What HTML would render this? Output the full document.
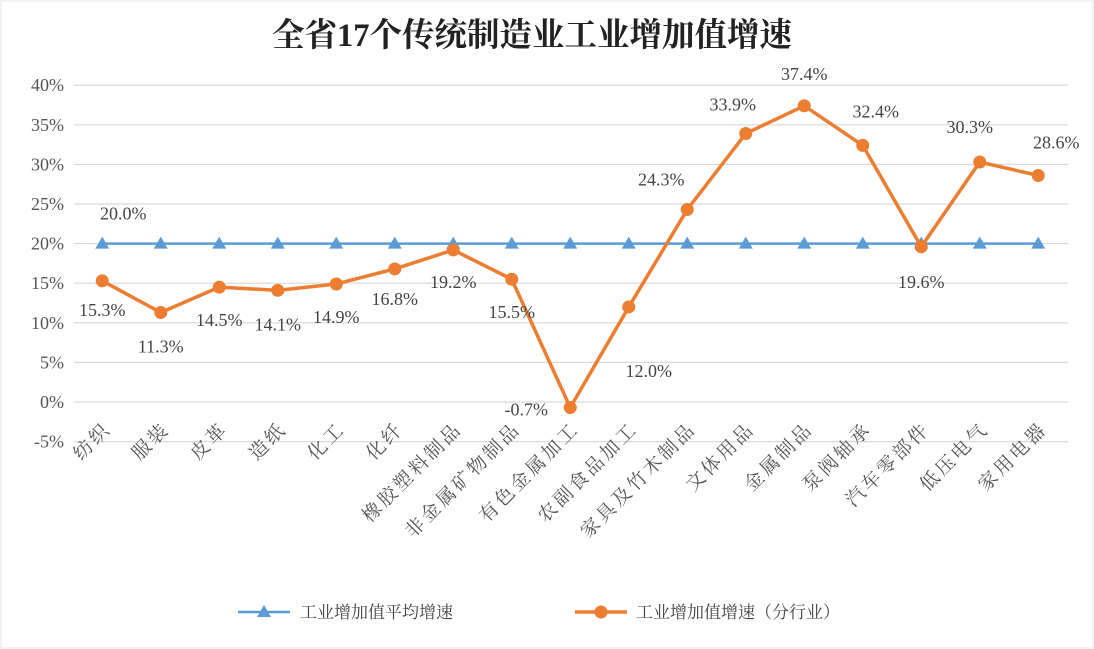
<!DOCTYPE html>
<html><head><meta charset="utf-8">
<style>
html,body{margin:0;padding:0;background:#fff;}
svg{display:block;font-family:"Liberation Serif","Noto Serif CJK SC",serif;}
</style></head>
<body>
<svg id="chart" width="1094" height="649" viewBox="0 0 1094 649">
<rect x="1" y="1" width="1092" height="647" fill="#fff" stroke="#e4e4e4"/>
<text x="532" y="46" text-anchor="middle" font-size="33" font-weight="bold" fill="#222" textLength="520" lengthAdjust="spacingAndGlyphs">全省17个传统制造业工业增加值增速</text>
<g id="grid"></g><g id="xlabels"></g><g id="series"></g>
<g>
<line x1="238" y1="612" x2="290" y2="612" stroke="#5b9bd5" stroke-width="2.5"/>
<polygon points="264,605 271,617 257,617" fill="#5b9bd5"/>
<text x="300" y="618" font-size="17" fill="#444">工业增加值平均增速</text>
<line x1="575" y1="612" x2="627" y2="612" stroke="#ed7d31" stroke-width="3.5"/>
<circle cx="601" cy="612" r="6.5" fill="#ed7d31"/>
<text x="636" y="618" font-size="17" fill="#444">工业增加值增速（分行业）</text>
</g>
</svg>
<script>
const categories=["纺织","服装","皮革","造纸","化工","化纤","橡胶塑料制品","非金属矿物制品","有色金属加工","农副食品加工","家具及竹木制品","文体用品","金属制品","泵阀轴承","汽车零部件","低压电气","家用电器"];
const avgValues=[20,20,20,20,20,20,20,20,20,20,20,20,20,20,20,20,20];
const industryValues=[15.3,11.3,14.5,14.1,14.9,16.8,19.2,15.5,-0.7,12.0,24.3,33.9,37.4,32.4,19.6,30.3,28.6];
const yTicks=[-5,0,5,10,15,20,25,30,35,40];
// label offsets (layout only)
const offs=[[0,29],[0,34],[0,33],[0,34],[0,33],[0,30],[0,32],[0,33],[-44,2],[20,64],[-26,-30],[-13,-29],[0,-32],[13,-34],[0,35],[-10,-35],[18,-33]];
const NS="http://www.w3.org/2000/svg";
const x0=73,step=58.5;
const X=i=>x0+step*(i+0.5);
const Y=v=>402-v*7.92;
function mk(tag,attrs,parent){const e=document.createElementNS(NS,tag);for(const k in attrs)e.setAttribute(k,attrs[k]);parent.appendChild(e);return e;}
const grid=document.getElementById('grid'),xl=document.getElementById('xlabels'),ser=document.getElementById('series');
yTicks.forEach(t=>{
  const l=mk('line',{x1:74,x2:1068,y1:Y(t),y2:Y(t),stroke:'#d9d9d9','stroke-width':1.2},grid);
  
  
  const tx=mk('text',{x:64,y:Y(t)+6,'text-anchor':'end','font-size':18,fill:'#555'},grid);
  tx.textContent=t+'%';
  
  
});
categories.forEach((c,i)=>{
  const x=X(i)+10,y=430;
  const t=mk('text',{x:x,y:y,'text-anchor':'end','font-size':19,'letter-spacing':3,fill:'#555',transform:`rotate(-45 ${x} ${y})`},xl);
  t.textContent=c;
  
  
});
const avgPl=mk('polyline',{points:avgValues.map((v,i)=>X(i)+','+Y(v)).join(' '),fill:'none',stroke:'#5b9bd5','stroke-width':2.5},ser);


avgValues.forEach((v,i)=>{
  const x=X(i),y=Y(v);
  const p=mk('polygon',{points:`${x},${y-7} ${x+7},${y+5} ${x-7},${y+5}`,fill:'#5b9bd5'},ser);
  
  
});
const al=mk('text',{x:X(0)+21,y:Y(avgValues[0])-24,'text-anchor':'middle','font-size':18,fill:'#444'},ser);
al.textContent=avgValues[0].toFixed(1)+'%';


const indPl=mk('polyline',{points:industryValues.map((v,i)=>X(i)+','+Y(v)).join(' '),fill:'none',stroke:'#ed7d31','stroke-width':3.5,'stroke-linejoin':'round'},ser);


industryValues.forEach((v,i)=>{
  const c=mk('circle',{cx:X(i),cy:Y(v),r:6.5,fill:'#ed7d31'},ser);
  
  
  const t=mk('text',{x:X(i)+offs[i][0],y:Y(v)+offs[i][1]+6,'text-anchor':'middle','font-size':18,fill:'#444'},ser);
  t.textContent=v.toFixed(1)+'%';
  
  
});
</script>
</body></html>
